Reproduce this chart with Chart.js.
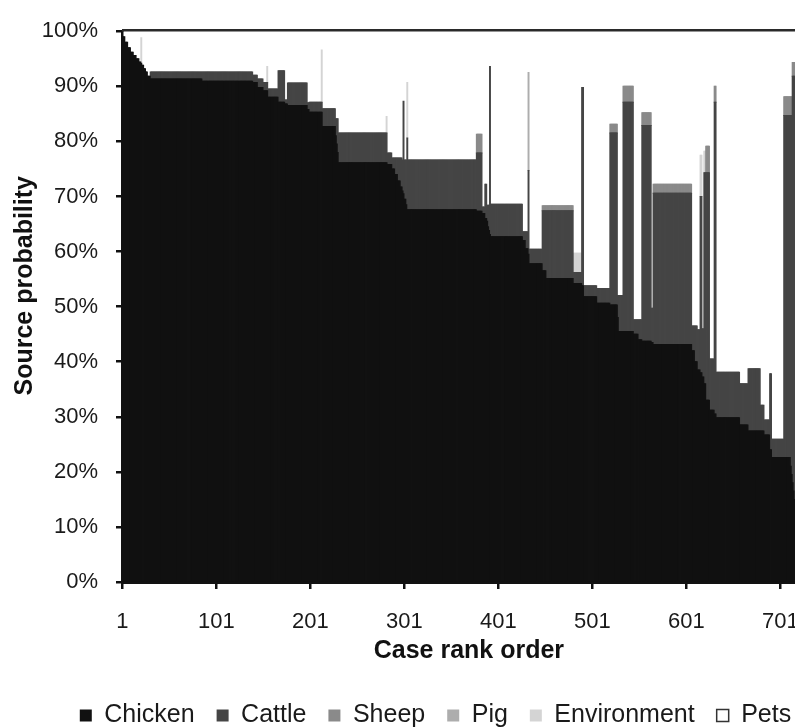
<!DOCTYPE html>
<html>
<head>
<meta charset="utf-8">
<script src="https://cdn.jsdelivr.net/npm/chart.js@4.4.1/dist/chart.umd.min.js"></script>
<style>
  html, body { margin: 0; padding: 0; background: #ffffff; }
  canvas { display: block; }
</style>
</head>
<body>
<canvas id="chart" width="795" height="727"></canvas>
<script>
// Cases are ranked by chicken attribution. Consecutive cases that share the
// same attribution are stored as runs: runLength[i] cases with the values below
// (percent of source probability per reservoir).
const runLength = [
  1, 2, 3, 3, 3, 3, 3, 2, 1, 2, 2, 2, 3,
  55, 54, 5, 6, 4, 1, 11, 7, 3, 21, 2, 13, 1, 14, 1, 1, 1,
  51, 1, 5, 3, 3, 3, 2, 1, 1, 2, 1, 1, 73, 6, 3, 2, 1, 1, 1, 1,
  34, 3, 3, 1, 14, 4, 29, 9, 2, 14, 14, 8, 1, 5, 11, 5, 4, 10, 2, 41,
  3, 3, 3, 2, 2, 2, 4, 5, 2, 25, 9, 13, 4, 6, 2, 13, 7, 1, 1, 1, 1, 1
];
const chicken = [
  100, 99.0, 98.0, 97.0, 96.2, 95.6, 95.0, 94.4, 94.2, 93.8, 93.2, 92.6, 91.8,
  91.3, 90.9, 90.7, 89.8, 89.2, 89.2, 88.0, 87.1, 86.8, 86.5, 85.8, 85.3, 85.3, 82.7, 81.0, 79.5, 78.0,
  76.1, 76.1, 75.8, 75.0, 74.0, 72.8, 71.7, 71.0, 70.5, 69.5, 68.5, 67.6, 67.6, 67.3, 66.9, 66.0, 65.5, 64.5, 63.8, 63.1,
  62.7, 62.0, 60.5, 59.5, 57.8, 56.5, 55.1, 54.2, 53.8, 51.8, 50.6, 50.3, 48.0, 45.5, 45.5, 45.0, 44.0, 43.7, 43.5, 43.1,
  42.0, 40.0, 38.5, 38.0, 37.2, 36.0, 33.0, 31.2, 30.5, 29.8, 28.5, 27.4, 27.4, 26.7, 24.0, 22.6, 22.6, 21.0, 19.5, 18.0, 16.5, 15.0
];
const cattle = [
  0, 0, 0, 0, 0, 0, 0, 0, 0, 0, 0, 0, 0,
  1.3, 1.7, 1.3, 1.5, 1.5, 1.5, 1.5, 5.7, 0.7, 4.1, 1.2, 1.8, 1.8, 3.2, 3.1, 4.6, 6.1,
  5.4, 5.4, 2.1, 2.0, 3.0, 4.2, 5.3, 5.6, 16.8, 7.1, 8.1, 13.0, 9.0, 10.6, 1.2, 6.2, 2.9, 3.9, 4.6, 30.5,
  5.9, 1.6, 3.1, 15.2, 2.6, 10.9, 12.3, 2.0, 36.0, 2.0, 2.7, 31.2, 4.0, 6.5, 41.6, 2.6, 3.6, 39.2, 6.2, 27.5,
  4.5, 6.5, 7.3, 32.0, 8.8, 38.3, 41.3, 9.3, 56.6, 8.3, 7.5, 11.3, 4.7, 2.7, 13.8, 3.3, 62.1, 63.7, 65.2, 73.8, 75.3, 76.8
];
const sheep = [
  0, 0, 0, 0, 0, 0, 0, 0, 0, 0, 0, 0, 0,
  0, 0, 0, 0, 0, 0, 0, 0, 0, 0, 0, 0, 0, 0, 0, 0, 0,
  0, 0, 0, 0, 0, 0, 0, 0, 0, 0, 0, 0, 0, 3.4, 0, 0, 0, 0, 0, 0,
  0, 0, 0, 0, 0, 0.9, 0.9, 0, 0, 0, 0, 1.6, 0, 0, 2.9, 0, 0, 2.3, 0, 1.6,
  0, 0, 0, 0, 0, 0, 4.8, 0, 2.9, 0, 0, 0, 0, 0, 0, 0, 3.4, 3.4, 3.4, 2.5, 2.5, 2.5
];
const pig = [
  0, 0, 0, 0, 0, 0, 0, 0, 0, 0, 0, 0, 0,
  0, 0, 0, 0, 0, 0, 0, 0, 0, 0, 0, 0, 0, 0, 0, 0, 0,
  0, 0, 0, 0, 0, 0, 0, 0, 0, 0, 0, 0, 0, 0, 0, 0, 0, 0, 0, 0,
  0, 0, 0, 17.8, 0, 0, 0, 0, 0, 0, 0, 0, 0, 0, 0, 0, 0, 0, 0, 0,
  0, 0, 0, 0, 0, 0, 0, 0, 0, 0, 0, 0, 0, 0, 0, 0, 0, 0, 0, 0, 0, 0
];
const environment = [
  0, 0, 0, 0, 0, 0, 0, 0, 4.6, 0, 0, 0, 0,
  0, 0, 0, 0, 0, 2.9, 0, 0, 0, 0, 0, 0, 9.5, 0, 0, 0, 0,
  0, 3.0, 0, 0, 0, 0, 0, 0, 0, 0, 0, 10.1, 0, 0, 0, 0, 0, 0, 0, 0,
  0, 0, 0, 0, 0, 0, 0, 3.5, 0, 0, 0, 0, 0, 0, 0, 0, 0, 0, 0, 0,
  0, 0, 0, 7.5, 0, 3.9, 0, 0, 0, 0, 0, 0, 0, 0, 0, 0, 0, 0, 0, 0, 0, 0
];
const pets = [
  0, 1.0, 2.0, 3.0, 3.8, 4.4, 5.0, 5.6, 1.2, 6.2, 6.8, 7.4, 8.2,
  7.4, 7.4, 8.0, 8.7, 9.3, 6.4, 10.5, 7.2, 12.5, 9.4, 13.0, 12.9, 3.4, 14.1, 15.9, 15.9, 15.9,
  18.5, 15.5, 22.1, 23.0, 23.0, 23.0, 23.0, 23.4, 12.7, 23.4, 23.4, 9.3, 23.4, 18.7, 31.9, 27.8, 31.6, 31.6, 31.6, 6.4,
  31.4, 36.4, 36.4, 7.5, 39.6, 31.7, 31.7, 40.3, 10.2, 46.2, 46.7, 16.9, 48.0, 48.0, 10.0, 52.4, 52.4, 14.8, 50.3, 27.8,
  53.5, 53.5, 54.2, 22.5, 54.0, 21.8, 20.9, 59.5, 10.0, 61.9, 64.0, 61.3, 67.9, 70.6, 62.2, 74.1, 11.9, 11.9, 11.9, 5.7, 5.7, 5.7
];

const tickLabels = ['1', '101', '201', '301', '401', '501', '601', '701'];
const sourceNames = ['Chicken', 'Cattle', 'Sheep', 'Pig', 'Environment', 'Pets'];
const sourceColors = ['#111111', '#454545', '#8a8a8a', '#adadad', '#d4d4d4', '#ffffff'];
const sourceSeries = [chicken, cattle, sheep, pig, environment, pets];

// Unroll the runs into one value per case; empty shares draw no segment.
function perCase(values) {
  const out = [];
  values.forEach((v, i) => {
    for (let k = 0; k < runLength[i]; k++) out.push(v === 0 ? null : v);
  });
  return out;
}
const caseCount = runLength.reduce((a, b) => a + b, 0);
const caseRanks = Array.from({ length: caseCount }, (_, i) => String(i + 1));

const FONT = "'Liberation Sans', Arial, Helvetica, sans-serif";
Chart.defaults.font.family = FONT;
Chart.defaults.color = '#1a1a1a';

// Plot frame line along the top of the plot area, and legend placement.
const framePlugin = {
  id: 'frame',
  afterLayout(chart) {
    const lg = chart.legend;
    if (lg) { lg.left += 38; lg.right += 38; lg.top += 11; lg.bottom += 11; }
  },
  afterDatasetsDraw(chart) {
    const { ctx, chartArea } = chart;
    ctx.save();
    ctx.strokeStyle = '#2a2a2a';
    ctx.lineWidth = 2.5;
    ctx.beginPath();
    ctx.moveTo(chartArea.left, chartArea.top - 1);
    ctx.lineTo(chartArea.right, chartArea.top - 1);
    ctx.stroke();
    ctx.restore();
  }
};

new Chart(document.getElementById('chart'), {
  type: 'bar',
  data: {
    labels: caseRanks,
    datasets: sourceNames.map((name, i) => ({
      label: name,
      data: perCase(sourceSeries[i]),
      backgroundColor: sourceColors[i],
      borderWidth: 0,
      inflateAmount: name === 'Pets' ? 0 : 0.5,
      barPercentage: 1,
      categoryPercentage: 1
    }))
  },
  options: {
    responsive: false,
    animation: false,
    devicePixelRatio: 1,
    layout: { padding: { top: 21, left: 0, right: 0, bottom: 0 } },
    plugins: {
      tooltip: { enabled: false },
      legend: {
        position: 'bottom',
        labels: {
          boxWidth: 12,
          boxHeight: 12,
          padding: 22,
          color: '#1a1a1a',
          font: { size: 25 },
          generateLabels(chart) {
            const items = Chart.defaults.plugins.legend.labels.generateLabels(chart);
            items.forEach(it => {
              if (it.text === 'Pets') { it.strokeStyle = '#333333'; it.lineWidth = 1.5; }
              else { it.lineWidth = 0; }
            });
            return items;
          }
        }
      }
    },
    scales: {
      x: {
        stacked: true,
        offset: true,
        grid: {
          display: true, drawOnChartArea: false, drawTicks: true,
          tickLength: 7, color: '#111111', lineWidth: 2.5, offset: false
        },
        border: { display: true, color: '#111111', width: 3 },
        ticks: {
          autoSkip: false, maxRotation: 0, minRotation: 0, padding: 20,
          color: '#1a1a1a', font: { size: 22 },
          callback(value) {
            const label = this.getLabelForValue(value);
            return tickLabels.includes(label) ? label : null;
          }
        },
        title: {
          display: true, text: '   Case rank order', color: '#111111',
          font: { size: 25, weight: 'bold' }, padding: { top: 0, bottom: 4 }
        },
        afterFit(scale) {
          // the plot runs to the right edge of the canvas
          scale.height = 88;
          scale.paddingLeft = 0;
          scale.paddingRight = 0;
        }
      },
      y: {
        stacked: true,
        min: 0, max: 100,
        grid: {
          display: true, drawOnChartArea: false, drawTicks: true,
          tickLength: 6, color: '#111111', lineWidth: 2.5
        },
        border: { display: true, color: '#111111', width: 3 },
        ticks: {
          stepSize: 10, padding: 18, color: '#1a1a1a', font: { size: 22 },
          callback: v => v + '%'
        },
        title: {
          display: true, text: '      Source probability', color: '#111111',
          font: { size: 25, weight: 'bold' }, padding: { top: 10, bottom: 0 }
        },
        afterFit(scale) { scale.width = 122; }
      }
    }
  },
  plugins: [framePlugin]
});
</script>
</body>
</html>
